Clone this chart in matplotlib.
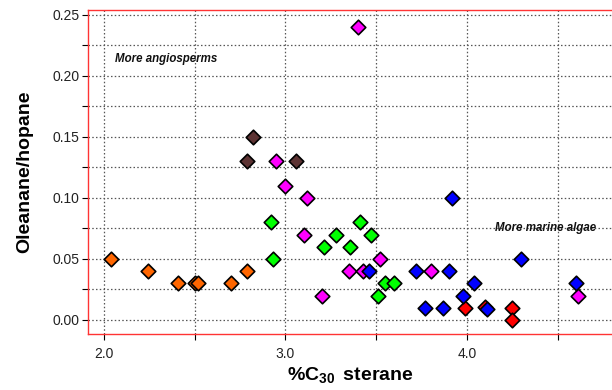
import matplotlib
matplotlib.use("Agg")
import matplotlib.pyplot as plt
from matplotlib.ticker import FixedLocator

plt.rcParams['font.family'] = ['Liberation Sans', 'DejaVu Sans']
plt.rcParams['mathtext.fontset'] = 'custom'
plt.rcParams['mathtext.rm'] = 'Liberation Sans:bold'
plt.rcParams['mathtext.bf'] = 'Liberation Sans:bold'
plt.rcParams['mathtext.default'] = 'bf'

# %C30 sterane (x) vs oleanane/hopane (y), grouped by sample set
orange_x = [2.04, 2.24, 2.41, 2.50, 2.52, 2.70, 2.79]
orange_y = [0.05, 0.04, 0.03, 0.03, 0.03, 0.03, 0.04]

brown_x = [2.82, 2.79, 3.06]
brown_y = [0.15, 0.13, 0.13]

green_x = [2.92, 2.93, 3.41, 3.28, 3.47, 3.21, 3.355, 3.55, 3.60, 3.51]
green_y = [0.08, 0.05, 0.08, 0.07, 0.07, 0.06, 0.06, 0.03, 0.03, 0.02]

magenta_x = [2.95, 3.00, 3.12, 3.40, 3.10, 3.20, 3.35, 3.43, 3.52, 3.80, 4.61]
magenta_y = [0.13, 0.11, 0.10, 0.24, 0.07, 0.02, 0.04, 0.04, 0.05, 0.04, 0.02]

red_x = [3.99, 4.10, 4.25, 4.25]
red_y = [0.01, 0.011, 0.01, 0.00]

blue_x = [3.92, 3.46, 3.72, 3.90, 3.77, 3.87, 4.04, 3.98, 4.11, 4.30, 4.60]
blue_y = [0.10, 0.04, 0.04, 0.04, 0.01, 0.01, 0.03, 0.02, 0.009, 0.05, 0.03]

x_major = [2.0, 3.0, 4.0]
x_minor = [2.5, 3.5, 4.5]
x_labels = ['2.0', '3.0', '4.0']
y_major = [0.00, 0.05, 0.10, 0.15, 0.20, 0.25]
y_minor = [0.025, 0.075, 0.125, 0.175, 0.225]
y_labels = ['0.00', '0.05', '0.10', '0.15', '0.20', '0.25']

groups = [
    (orange_x, orange_y, '#FF6600'),
    (brown_x, brown_y, '#5C3333'),
    (green_x, green_y, '#00FF00'),
    (magenta_x, magenta_y, '#FF00FF'),
    (red_x, red_y, '#FF0000'),
    (blue_x, blue_y, '#0000FF'),
]

fig = plt.figure(figsize=(6.12, 3.90), dpi=100)
ax = fig.add_axes([88 / 612, 56 / 390, 1 - 88 / 612, 324 / 390])

for xs, ys, col in groups:
    ax.scatter(xs, ys, marker='D', s=55, facecolor=col, edgecolor='black',
               linewidth=1.2, zorder=3, clip_on=False)

ax.set_xlim(1.912, 4.80)
ax.set_ylim(-0.0115, 0.254)

ax.xaxis.set_major_locator(FixedLocator(x_major))
ax.xaxis.set_minor_locator(FixedLocator(x_minor))
ax.yaxis.set_major_locator(FixedLocator(y_major))
ax.yaxis.set_minor_locator(FixedLocator(y_minor))
ax.set_xticklabels(x_labels)
ax.set_yticklabels(y_labels)

ax.tick_params(which='both', direction='out', length=4, width=0.8,
               color='black', labelsize=10, pad=2, labelcolor='#222222')
ax.tick_params(axis='x', pad=5)

ax.grid(True, which='both', linestyle=(0, (1.2, 1.8)), color='#555555',
        linewidth=0.9)
ax.set_axisbelow(True)

for side in ('left', 'top', 'bottom'):
    ax.spines[side].set_color('#FF3333')
    ax.spines[side].set_linewidth(1.0)
ax.spines['right'].set_visible(False)

ax.text(2.06, 0.214, 'More angiosperms', fontsize=8.3, fontweight='bold',
        fontstyle='italic', va='center', ha='left', color='#111111')
ax.text(4.155, 0.0754, 'More marine algae', fontsize=8.3, fontweight='bold',
        fontstyle='italic', va='center', ha='left', color='#111111')

ax.set_ylabel('Oleanane/hopane', fontsize=14, fontweight='bold', labelpad=14)
ax.set_xlabel(r'%C$_{30}\,$ sterane', fontsize=14, fontweight='bold', labelpad=3)

fig.savefig('out.png', dpi=100)
